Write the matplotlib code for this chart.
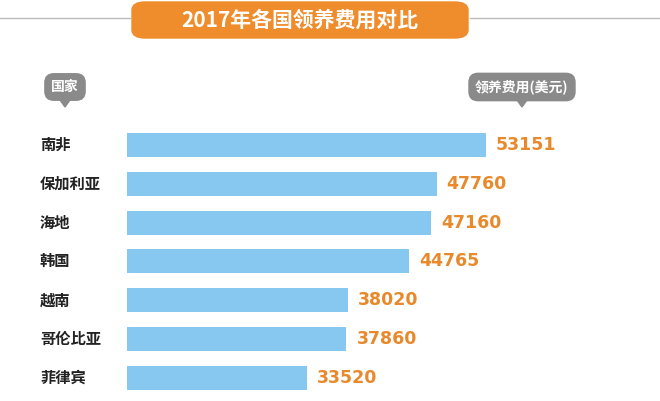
import matplotlib.pyplot as plt
from matplotlib.patches import FancyBboxPatch

plt.rcParams['font.family'] = ['Noto Sans CJK SC', 'Noto Sans CJK JP', 'Noto Sans CJK TC',
                               'Noto Sans CJK KR', 'DejaVu Sans']

countries = ['南非', '保加利亚', '海地', '韩国', '越南', '哥伦比亚', '菲律宾']
fees = [53151, 47760, 47160, 44765, 38020, 37860, 33520]

W, H = 660, 401
fig = plt.figure(figsize=(6.6, 4.01), dpi=100)
fig.patch.set_facecolor('white')

# bar area
ax = fig.add_axes([127 / W, 1 - 397 / H, 533 / W, (397 - 125.6) / H])
ax.barh(range(len(fees)), fees, height=0.62, color='#86c8f0')
ax.set_xlim(13800, 13800 + 533 / 0.00912)
ax.set_ylim(len(fees) - 0.5, -0.5)
ax.axis('off')
for i, (c, v) in enumerate(zip(countries, fees)):
    ax.text(v + 1100, i, str(v), va='center', ha='left', color='#e8892b',
            fontsize=12.5, fontweight='bold', fontfamily='Liberation Sans Narrow')
    fig.text(40 / W, 1 - (145 + i * 38.8) / H, c, va='center', ha='left',
             fontsize=11, fontweight='bold', color='#222222')

# title
fig.add_artist(plt.Line2D([0, 130 / W], [1 - 18 / H] * 2, color='#bbbbbb', lw=1))
fig.add_artist(plt.Line2D([470 / W, 1], [1 - 18 / H] * 2, color='#bbbbbb', lw=1))
fig.add_artist(FancyBboxPatch((132 / W, 1 - 38 / H), 336 / W, 36 / H,
                              boxstyle='round,pad=0,rounding_size=0.02',
                              transform=fig.transFigure, color='#ef8c2c'))
fig.text(300 / W, 1 - 20 / H, '2017年各国领养费用对比', ha='center', va='center',
         color='white', fontsize=15, fontweight='bold')

# tags
for x, txt in [(65, '国家'), (522, '领养费用(美元)')]:
    fig.text(x / W, 1 - 87 / H, txt, ha='center', va='center', color='white',
             fontsize=10, fontweight='bold',
             bbox=dict(boxstyle='round,pad=0.5,rounding_size=0.7',
                       fc='#8a8a8a', ec='none'))
    fig.add_artist(plt.Polygon([[(x - 5) / W, 1 - 100 / H], [(x + 5) / W, 1 - 100 / H],
                                [x / W, 1 - 107 / H]], transform=fig.transFigure,
                               color='#8a8a8a'))

fig.savefig('out.png', dpi=100)
